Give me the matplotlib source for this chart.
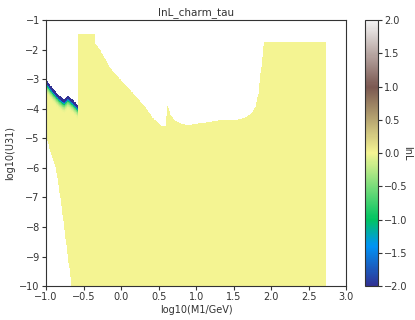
import numpy as np
import matplotlib
matplotlib.use("Agg")
import matplotlib.pyplot as plt
from matplotlib.colors import ListedColormap

# Boundary of the low-mass strip (upper edge of the allowed band)
low_top_x = [-1.00, -0.92, -0.83, -0.76, -0.71, -0.65, -0.573]
low_top_y = [-3.01, -3.28, -3.54, -3.68, -3.54, -3.68, -3.88]

# Left edge of the low-mass strip (log10 U31 -> log10 M1)
low_left_y = [-10.0, -9.0, -8.0, -7.0, -6.0, -5.4, -4.9, -4.0]
low_left_x = [-0.66, -0.71, -0.76, -0.81, -0.87, -0.95, -1.00, -1.00]

# Upper edge of the main region
main_top_x = [-0.573, -0.35, -0.34, -0.28, -0.15, 0.00, 0.16, 0.32, 0.43,
              0.55, 0.59, 0.62, 0.66, 0.72, 0.80, 0.89, 1.11, 1.29, 1.51,
              1.64, 1.73, 1.79, 1.83, 1.86, 1.89, 1.905, 2.73]
main_top_y = [-1.45, -1.45, -1.80, -2.00, -2.60, -3.03, -3.47, -3.94, -4.33,
              -4.60, -4.60, -3.90, -4.20, -4.40, -4.50, -4.55, -4.47, -4.40,
              -4.38, -4.32, -4.18, -3.93, -3.48, -2.80, -2.12, -1.73, -1.73]
main_x_min, main_x_max = -0.573, 2.73

# lnL profile as a function of depth below the top edge of the low-mass strip
depth = [0.00, 0.11, 0.14, 0.18, 0.23, 0.31, 0.40, 0.50]
depth_lnl = [-2.0, -2.0, -1.5, -1.0, -0.6, -0.25, -0.05, 0.0]

# Evaluation grid
xs = np.linspace(-1.0, 3.0, 801)
ys = np.linspace(-10.0, -1.0, 901)
X, Y = np.meshgrid(xs, ys)
Z = np.full(X.shape, np.nan)

# Low-mass strip
in_low = X < main_x_min
top_low = np.interp(X, low_top_x, low_top_y)
left_low = np.interp(Y, low_left_y, low_left_x)
mask_low = in_low & (Y <= top_low) & (X >= left_low)
d = top_low - Y
Z[mask_low] = np.interp(d[mask_low], depth, depth_lnl)

# Main region
in_main = (X >= main_x_min) & (X <= main_x_max)
top_main = np.interp(X, main_top_x, main_top_y)
mask_main = in_main & (Y <= top_main)
Z[mask_main] = 0.0

Zm = np.ma.masked_invalid(Z)

# Slightly muted terrain palette
base = plt.get_cmap("terrain")(np.linspace(0, 1, 256))
base[:, :3] = base[:, :3] * 0.96
cmap = ListedColormap(base, name="terrain_muted")

text_color = "#333333"
plt.rcParams["font.family"] = ["DejaVu Sans"]
fig = plt.figure(figsize=(4.15, 3.2), dpi=100)
ax = fig.add_axes([0.111, 0.106, 0.723, 0.831])
cax = fig.add_axes([0.880, 0.106, 0.031, 0.831])

mesh = ax.pcolormesh(xs, ys, Zm, cmap=cmap, vmin=-2, vmax=2,
                     shading="nearest", rasterized=True)
ax.set_xlim(-1.0, 3.0)
ax.set_ylim(-10.0, -1.0)
xt = np.arange(-1.0, 3.01, 0.5)
ax.set_xticks(xt)
ax.set_xticklabels([f"{v:.1f}".replace("-", "\u2212") for v in xt])
ax.set_yticks(np.arange(-10, -0.5, 1))
ax.set_xlabel("log10(M1/GeV)", fontsize=7, color=text_color, labelpad=2)
ax.set_ylabel("log10(U31)", fontsize=7, color=text_color, labelpad=3)
ax.set_title("lnL_charm_tau", fontsize=7.5, color=text_color, pad=4)
ax.tick_params(labelsize=7, colors=text_color, length=3, width=0.8, pad=1.5)
for s in ax.spines.values():
    s.set_color(text_color)
    s.set_linewidth(0.8)

cb = fig.colorbar(mesh, cax=cax)
cb.set_ticks(np.arange(-2.0, 2.01, 0.5))
cb.ax.tick_params(labelsize=7, colors=text_color, length=3, width=0.8, pad=1.5)
cb.outline.set_edgecolor(text_color)
cb.outline.set_linewidth(0.8)
cb.set_label("lnL", fontsize=7, color=text_color, rotation=270, labelpad=3)

fig.savefig("out.png", dpi=100)
